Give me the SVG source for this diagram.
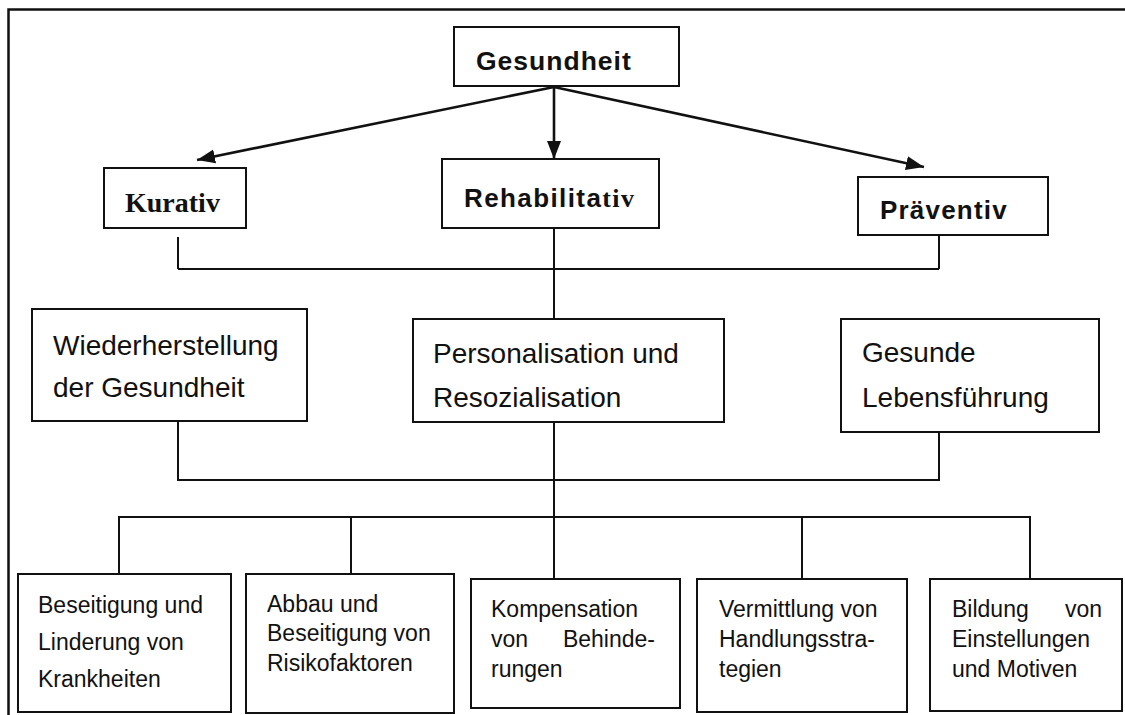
<svg xmlns="http://www.w3.org/2000/svg" width="1125" height="715" viewBox="0 0 1125 715">
  <style>
    .box { fill: #ffffff; stroke: #111111; stroke-width: 2; }
    .wire { fill: none; stroke: #111111; stroke-width: 2; }
    .arrow { fill: none; stroke: #111111; stroke-width: 2.6; }
    .frame { fill: none; stroke: #111111; stroke-width: 2.5; }
    .head { font-family: "Liberation Sans", Arial, sans-serif; font-weight: bold; fill: #111111; }
    .serif { font-family: "Liberation Serif", "Times New Roman", serif; font-weight: bold; }
    .mid { font-family: "Liberation Sans", Arial, sans-serif; font-size: 28px; fill: #111111; }
    .low { font-family: "Liberation Sans", Arial, sans-serif; font-size: 23px; fill: #111111; }
  </style>
  <defs>
    <marker id="tip" markerUnits="userSpaceOnUse" markerWidth="20" markerHeight="16" viewBox="0 0 20 16" refX="18" refY="8" orient="auto">
      <path d="M0,1 L18,8 L0,15 Z" fill="#111111"/>
    </marker>
  </defs>

  <rect width="1125" height="715" fill="#ffffff"/>

  <!-- page frame (left and top edges) -->
  <path class="frame" d="M8.5,715 V9.5 H1125"/>

  <!-- connectors -->
  <g id="connectors">
    <line class="arrow" x1="554" y1="87" x2="197" y2="160" marker-end="url(#tip)"/>
    <line class="arrow" x1="554" y1="87" x2="554" y2="159" marker-end="url(#tip)"/>
    <line class="arrow" x1="554" y1="87" x2="924" y2="167" marker-end="url(#tip)"/>

    <path class="wire" d="M178,237 V269 M939,235 V269 M178,269 H939"/>
    <path class="wire" d="M554,228 V319"/>
    <path class="wire" d="M178,421 V480 H939 V432"/>
    <path class="wire" d="M554,422 V579"/>
    <path class="wire" d="M119,574 V517 H1030 V579 M351,517 V574 M802,517 V579"/>
  </g>

  <!-- top level -->
  <g id="gesundheit">
    <rect class="box" x="454" y="27" width="225" height="59"/>
    <text class="head" x="476" y="70" font-size="26.5" letter-spacing="1">Gesundheit</text>
  </g>

  <!-- second level -->
  <g id="kurativ">
    <rect class="box" x="104" y="168" width="142" height="60"/>
    <text class="head serif" x="125" y="212" font-size="28">Kurativ</text>
  </g>
  <g id="rehabilitativ">
    <rect class="box" x="442" y="159" width="217" height="69"/>
    <text class="head" x="464" y="207" font-size="26" letter-spacing="1.4">Rehabilita<tspan class="serif">tiv</tspan></text>
  </g>
  <g id="praeventiv">
    <rect class="box" x="858" y="177" width="190" height="58"/>
    <text class="head" x="880" y="219" font-size="26" letter-spacing="1.2">Präventiv</text>
  </g>

  <!-- aims -->
  <g id="wiederherstellung">
    <rect class="box" x="32" y="309" width="275" height="112"/>
    <text class="mid" x="53" y="355">Wiederherstellung</text>
    <text class="mid" x="53" y="397">der Gesundheit</text>
  </g>
  <g id="personalisation">
    <rect class="box" x="413" y="319" width="311" height="103"/>
    <text class="mid" x="433" y="363">Personalisation und</text>
    <text class="mid" x="433" y="407">Resozialisation</text>
  </g>
  <g id="lebensfuehrung">
    <rect class="box" x="841" y="319" width="258" height="113"/>
    <text class="mid" x="862" y="362">Gesunde</text>
    <text class="mid" x="862" y="407">Lebensführung</text>
  </g>

  <!-- measures -->
  <g id="beseitigung">
    <rect class="box" x="18" y="574" width="213" height="138"/>
    <text class="low" x="38" y="613">Beseitigung und</text>
    <text class="low" x="38" y="650">Linderung von</text>
    <text class="low" x="38" y="687">Krankheiten</text>
  </g>
  <g id="abbau">
    <rect class="box" x="246" y="574" width="208" height="139"/>
    <text class="low" x="267" y="612">Abbau und</text>
    <text class="low" x="267" y="641">Beseitigung von</text>
    <text class="low" x="267" y="671">Risikofaktoren</text>
  </g>
  <g id="kompensation">
    <rect class="box" x="471" y="579" width="209" height="129"/>
    <text class="low" x="491" y="617">Kompensation</text>
    <text class="low" x="491" y="647">von</text>
    <text class="low" x="655" y="647" text-anchor="end">Behinde-</text>
    <text class="low" x="491" y="677">rungen</text>
  </g>
  <g id="vermittlung">
    <rect class="box" x="697" y="579" width="210" height="133"/>
    <text class="low" x="719" y="617">Vermittlung von</text>
    <text class="low" x="719" y="647">Handlungsstra-</text>
    <text class="low" x="719" y="677">tegien</text>
  </g>
  <g id="bildung">
    <rect class="box" x="930" y="579" width="192" height="132"/>
    <text class="low" x="952" y="617">Bildung</text>
    <text class="low" x="1102" y="617" text-anchor="end">von</text>
    <text class="low" x="952" y="647">Einstellungen</text>
    <text class="low" x="952" y="677">und Motiven</text>
  </g>
</svg>
